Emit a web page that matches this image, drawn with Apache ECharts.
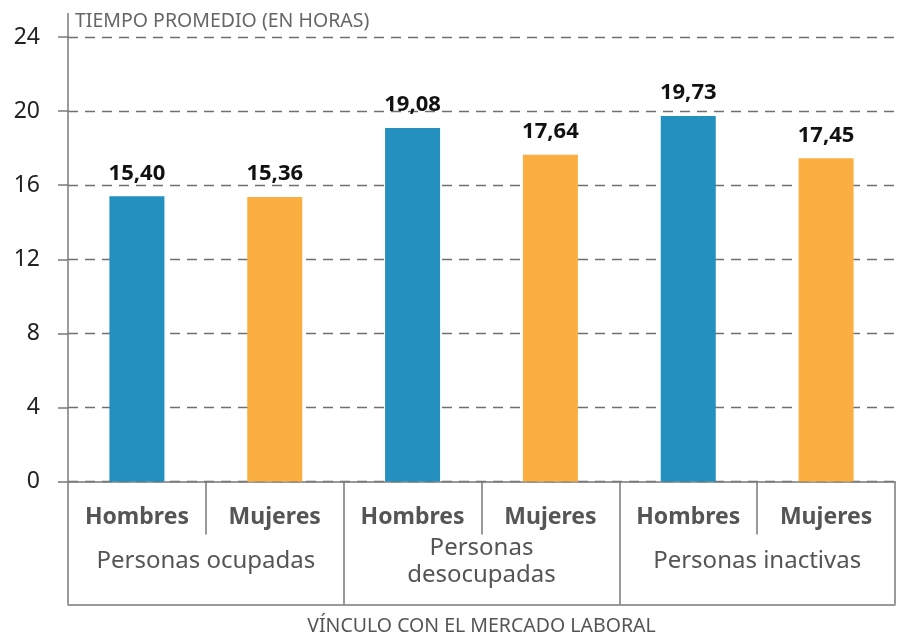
<!DOCTYPE html>
<html><head><meta charset="utf-8">
<script src="https://cdn.jsdelivr.net/npm/echarts@6/dist/echarts.min.js"></script>
<style>html,body{margin:0;padding:0;background:#fff}#c{width:904px;height:634px}</style>
</head><body><div id="c"></div>
<script>
const subCategories = ['Hombres','Mujeres','Hombres','Mujeres','Hombres','Mujeres'];
const groups = ['Personas ocupadas','Personas\ndesocupadas','Personas inactivas'];
const hombres = [15.40, 19.08, 19.73];
const mujeres = [15.36, 17.64, 17.45];
const yTicks = [0, 4, 8, 12, 16, 20, 24];
const yTitle = 'TIEMPO PROMEDIO (EN HORAS)';
const xTitle = 'VÍNCULO CON EL MERCADO LABORAL';

const BLUE = '#2390BF', ORANGE = '#FAAF40';
const FONT = 'Noto Sans';
const data = [];
for (let i = 0; i < groups.length; i++) {
  data.push({value: hombres[i], itemStyle: {color: BLUE}});
  data.push({value: mujeres[i], itemStyle: {color: ORANGE}});
}
const chart = echarts.init(document.getElementById('c'), null, {renderer: 'canvas'});
const GRID = {left: 68, right: 9, top: 37, bottom: 152.5, outerBoundsMode: 'none', containLabel: false};
chart.setOption({
  animation: false,
  textStyle: {fontFamily: FONT},
  grid: GRID,
  xAxis: [{
    type: 'category', data: subCategories, position: 'bottom',
    axisLine: {lineStyle: {color: '#7a7a7a', width: 1.5}},
    axisTick: {show: true, interval: 0, length: 53, lineStyle: {color: '#7a7a7a', width: 1.5}},
    axisLabel: {interval: 0, fontFamily: FONT, fontWeight: 'bold', fontSize: 23, color: '#555', margin: 36, verticalAlign: 'middle'}
  }, {
    type: 'category', data: groups, position: 'bottom', offset: 123,
    axisLine: {show: true, lineStyle: {color: '#7a7a7a', width: 1.5}},
    axisTick: {show: true, inside: true, interval: 0, length: 123, lineStyle: {color: '#7a7a7a', width: 1.5}},
    axisLabel: {interval: 0, fontFamily: FONT, fontSize: 24, color: '#555', margin: -43, verticalAlign: 'middle', lineHeight: 27},
    name: xTitle, nameLocation: 'middle', nameGap: 22,
    nameTextStyle: {fontFamily: FONT, fontSize: 19.5, color: '#555', verticalAlign: 'middle'}
  }],
  yAxis: {
    type: 'value', min: 0, max: 24, interval: 4,
    name: yTitle, nameLocation: 'end', nameGap: 16,
    nameTextStyle: {fontFamily: FONT, fontSize: 19.5, color: '#666', align: 'left', verticalAlign: 'middle', padding: [0, 0, 0, 7]},
    axisLine: {show: true, lineStyle: {color: '#7a7a7a', width: 1.5}},
    axisTick: {show: true, length: 10, lineStyle: {color: '#7a7a7a', width: 1.5}},
    axisLabel: {fontFamily: FONT, fontSize: 23, color: '#222', margin: 28,
      formatter: v => yTicks.includes(v) ? String(v) : ''},
    splitLine: {show: true, lineStyle: {color: '#6f6f6f', width: 1.3, type: [10, 7]}}
  },
  series: [{
    type: 'bar', data: data, xAxisIndex: 0, barWidth: 55,
    label: {show: true, position: 'top', distance: 12, fontFamily: FONT, fontWeight: 'bold', fontSize: 22, color: '#111',
      formatter: p => p.value.toFixed(2).replace('.', ',')}
  }]
});
const yTop = chart.convertToPixel({yAxisIndex: 0}, 24);
chart.setOption({
  graphic: [{type: 'line', shape: {x1: GRID.left, y1: yTop - 24, x2: GRID.left, y2: yTop},
    style: {stroke: '#7a7a7a', lineWidth: 1.5}}]
});
</script></body></html>
